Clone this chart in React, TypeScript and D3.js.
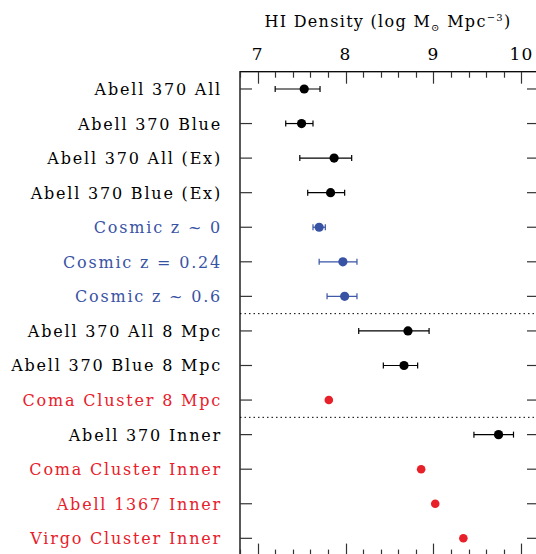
import React from "react";
import * as d3 from "d3";

// Sample names, top to bottom
const labels = [
  "Abell 370 All",
  "Abell 370 Blue",
  "Abell 370 All (Ex)",
  "Abell 370 Blue (Ex)",
  "Cosmic z ~ 0",
  "Cosmic z = 0.24",
  "Cosmic z ~ 0.6",
  "Abell 370 All 8 Mpc",
  "Abell 370 Blue 8 Mpc",
  "Coma Cluster 8 Mpc",
  "Abell 370 Inner",
  "Coma Cluster Inner",
  "Abell 1367 Inner",
  "Virgo Cluster Inner",
];

// Which group each sample belongs to (sets colour)
const groups = [
  "a370", "a370", "a370", "a370",
  "cosmic", "cosmic", "cosmic",
  "a370", "a370", "local",
  "a370", "local", "local", "local",
];

// log HI density and its lower / upper bounds (null = no error bar)
const densities = [7.53, 7.50, 7.87, 7.83, 7.70, 7.97, 7.99, 8.71, 8.665, 7.81, 9.74, 8.86, 9.02, 9.34];
const lowerBounds: (number | null)[] = [7.20, 7.32, 7.48, 7.57, 7.63, 7.70, 7.79, 8.15, 8.43, null, 9.46, null, null, null];
const upperBounds: (number | null)[] = [7.71, 7.63, 8.07, 7.99, 7.77, 8.13, 8.13, 8.95, 8.82, null, 9.91, null, null, null];

// Dotted separators sit between these row indices
const separatorsAfter = [6, 9];

const xTickLabels = [7, 8, 9, 10];

const colors: Record<string, string> = {
  a370: "#000000",
  cosmic: "#3953a4",
  local: "#e8202a",
};

const W = 536;
const H = 554;
const FONT = "'DejaVu Serif', 'Liberation Serif', serif";

export default function App() {
  const x = d3.scaleLinear().domain([6.8, 10.2]).range([240, 539]);
  const y = d3.scaleLinear().domain([-0.5, labels.length - 0.5]).range([71.7, 555.6]);

  const [x0, x1] = x.range();
  const [y0, y1] = y.range();

  const minorTicks = d3.range(6.8, 10.2001, 0.2).map((v) => +v.toFixed(1));
  const isMajor = (v: number) => Math.abs(v - Math.round(v)) < 1e-6;

  const rows = d3.range(labels.length);

  return (
    <svg
      width={W}
      height={H}
      style={{ position: "absolute", left: 0, top: 0, background: "#fff" }}
      fontFamily={FONT}
    >
      {/* axis title */}
      <text x={388} y={27} textAnchor="middle" fontSize={16} fill="#000" letterSpacing={1.3}>
        HI Density (log M
        <tspan fontSize={10} dy={4}>⊙</tspan>
        <tspan dy={-4}> Mpc</tspan>
        <tspan fontSize={10} dy={-6}>−3</tspan>
        <tspan dy={6}>)</tspan>
      </text>

      {/* top tick labels */}
      {xTickLabels.map((t) => (
        <text key={t} x={x(t)} y={60} textAnchor="middle" fontSize={17} letterSpacing={1} fill="#000">
          {t}
        </text>
      ))}

      {/* frame */}
      <rect x={x0} y={y0} width={x1 - x0} height={y1 - y0} fill="none" stroke="#000" strokeWidth={1.3} />

      {/* x ticks, top and bottom */}
      {minorTicks.map((v) => {
        const len = isMajor(v) ? 12 : 6;
        const px = Math.round(x(v)) + 0.5;
        return (
          <g key={v} stroke="#333" strokeWidth={1.2}>
            <line x1={px} x2={px} y1={y0} y2={y0 + len} />
            <line x1={px} x2={px} y1={y1} y2={y1 - len} />
          </g>
        );
      })}

      {/* y ticks, left and right */}
      {rows.map((i) => (
        <g key={i} stroke="#333" strokeWidth={1.2}>
          <line x1={x0} x2={x0 + 12} y1={y(i)} y2={y(i)} />
          <line x1={x1} x2={x1 - 12} y1={y(i)} y2={y(i)} />
        </g>
      ))}

      {/* group separators */}
      {separatorsAfter.map((i) => (
        <line
          key={i}
          x1={x0}
          x2={x1}
          y1={y(i + 0.5)}
          y2={y(i + 0.5)}
          stroke="#000"
          strokeWidth={1}
          strokeDasharray="1.5,3"
        />
      ))}

      {/* row labels */}
      {rows.map((i) => (
        <text
          key={i}
          x={222}
          y={y(i) + 6}
          textAnchor="end"
          fontSize={16}
          letterSpacing={1.8}
          fill={colors[groups[i]]}
        >
          {labels[i]}
        </text>
      ))}

      {/* error bars */}
      {rows.map((i) => {
        const lo = lowerBounds[i];
        const hi = upperBounds[i];
        if (lo == null || hi == null) return null;
        const c = colors[groups[i]];
        const cy = y(i);
        return (
          <g key={i} stroke={c} strokeWidth={1.2}>
            <line x1={x(lo)} x2={x(hi)} y1={cy} y2={cy} />
            <line x1={x(lo)} x2={x(lo)} y1={cy - 3} y2={cy + 3} />
            <line x1={x(hi)} x2={x(hi)} y1={cy - 3} y2={cy + 3} />
          </g>
        );
      })}

      {/* points */}
      {rows.map((i) => (
        <circle
          key={i}
          cx={x(densities[i])}
          cy={y(i)}
          r={groups[i] === "local" ? 4.3 : 4.6}
          fill={colors[groups[i]]}
        />
      ))}
    </svg>
  );
}
